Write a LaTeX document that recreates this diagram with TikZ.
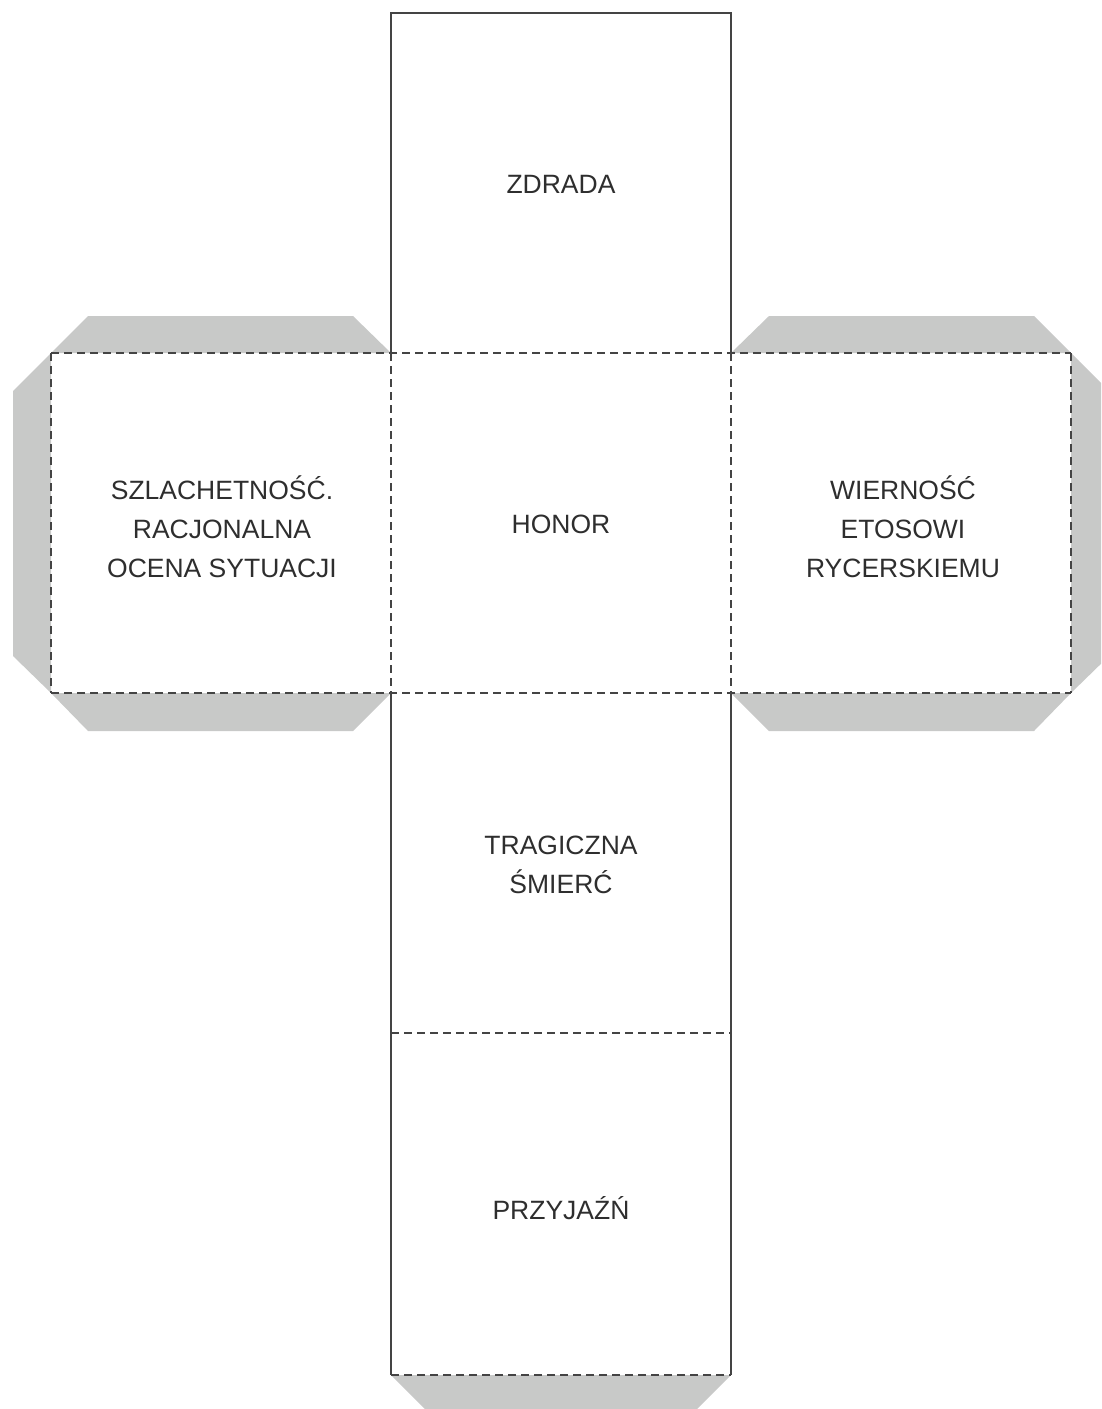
\documentclass[tikz,border=0pt]{standalone}
\usepackage{fontspec}
\setmainfont{Liberation Sans}
\definecolor{tabgrey}{HTML}{C8C9C8}
\definecolor{linegrey}{HTML}{444444}
\definecolor{txtgrey}{HTML}{2E2E2E}
\begin{document}
\begin{tikzpicture}[x=1pt,y=-1pt,
  tab/.style={fill=tabgrey,draw=none},
  cutline/.style={draw=linegrey,line width=1.8pt,line join=miter},
  foldline/.style={draw=linegrey,line width=2pt,dash pattern=on 8pt off 5pt},
  label/.style={text=txtgrey,align=center,font=\fontsize{26.5}{39}\selectfont}]
\useasboundingbox (0,0) rectangle (1101,1409);
\clip (0,0) rectangle (1101,1409);
% glue tabs
\fill[tab] (51,353) -- (88,316) -- (353,316) -- (391,353) -- cycle;
\fill[tab] (51,353) -- (13,391) -- (13,656) -- (51,693) -- cycle;
\fill[tab] (51,693) -- (88,731) -- (353,731) -- (391,693) -- cycle;
\fill[tab] (731,353) -- (769,316) -- (1034,316) -- (1071,353) -- cycle;
\fill[tab] (1071,353) -- (1109,391) -- (1109,656) -- (1071,693) -- cycle;
\fill[tab] (731,693) -- (769,731) -- (1034,731) -- (1071,693) -- cycle;
\fill[tab] (391,1375) -- (429,1413) -- (693,1413) -- (731,1375) -- cycle;
% cut lines
\draw[cutline] (391,353) -- (391,13) -- (731,13) -- (731,353);
\draw[cutline] (391,693) -- (391,1375);
\draw[cutline] (731,693) -- (731,1375);
% fold lines
\draw[foldline] (51,353) -- (1071,353);
\draw[foldline] (51,693) -- (1071,693);
\draw[foldline] (51,353) -- (51,693);
\draw[foldline] (391,353) -- (391,693);
\draw[foldline] (731,353) -- (731,693);
\draw[foldline] (1071,353) -- (1071,693);
\draw[foldline] (391,1033) -- (731,1033);
\draw[foldline] (391,1375) -- (731,1375);
% labels
\node[label] (zdrada) at (561,184) {ZDRADA};
\node[label] (honor) at (561,524) {HONOR};
\node[label] (szlach) at (222,527) {SZLACHETNOŚĆ.\\RACJONALNA\\OCENA SYTUACJI};
\node[label] (wiern) at (903,527) {WIERNOŚĆ\\ETOSOWI\\RYCERSKIEMU};
\node[label] (trag) at (561,865) {TRAGICZNA\\ŚMIERĆ};
\node[label] (przyj) at (561,1208) {PRZYJAŹŃ};
\end{tikzpicture}
\end{document}
